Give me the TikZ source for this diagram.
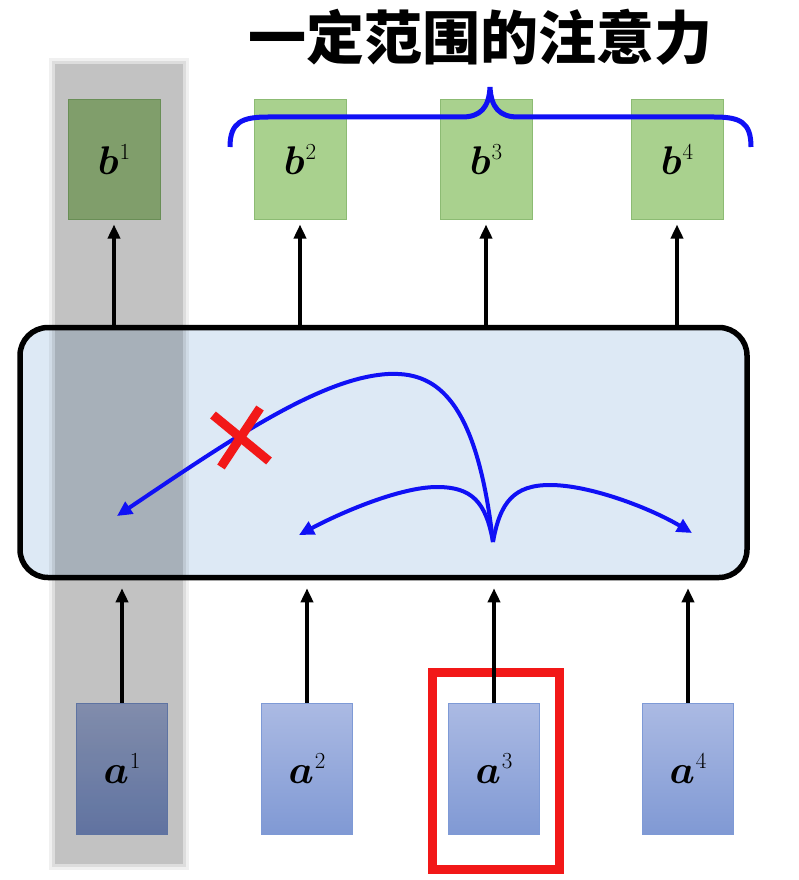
\RequirePackage{fix-cm}
\documentclass[tikz,border=0pt]{standalone}
\usepackage{fontspec}
\usepackage{amsmath,bm}
\newfontfamily\cjk{Noto Sans CJK SC}
\usetikzlibrary{arrows.meta,calc}
\definecolor{bfill}{HTML}{A9D18E}
\definecolor{bdraw}{HTML}{8CBB73}
\definecolor{atop}{HTML}{ABBAE3}
\definecolor{abot}{HTML}{8099D4}
\definecolor{adraw}{HTML}{7E9AD6}
\definecolor{midfill}{HTML}{DDE9F5}
\definecolor{myblue}{HTML}{1010F5}
\definecolor{myred}{HTML}{F21818}
\newcommand{\vlab}[2]{{\fontsize{40}{48}\selectfont$\bm{#1}$}\kern1pt\raisebox{15pt}{\fontsize{23}{26}\selectfont #2}}
\tikzset{
  bbox/.style={draw=bdraw,line width=1pt,fill=bfill,minimum width=92pt,minimum height=119pt,inner sep=0pt},
  abox/.style={draw=adraw,line width=1pt,top color=atop,bottom color=abot,minimum width=91pt,minimum height=131pt,inner sep=0pt},
  uparrow/.style={line width=3.5pt,draw=black,-{Triangle[length=14pt,width=12pt]}},
  bluearrow/.style={line width=4pt,draw=myblue,-{Triangle[length=15pt,width=14pt]}},
}
\begin{document}
\begin{tikzpicture}[x=1pt,y=-1pt]
\useasboundingbox (0,0) rectangle (798,880);
\fill[white] (0,0) rectangle (798,880);
% title
\node[font=\cjk\bfseries\fontsize{58}{60}\selectfont,inner sep=0pt] (title) at (480,37) {一定范围的注意力};
% b boxes
\node[bbox] (b1) at (114,159.5) {\vlab{b}{1}};
\node[bbox] (b2) at (300,159.5) {\vlab{b}{2}};
\node[bbox] (b3) at (486,159.5) {\vlab{b}{3}};
\node[bbox] (b4) at (677,159.5) {\vlab{b}{4}};
% a boxes
\node[abox] (a1) at (122,768.5) {\vlab{a}{1}};
\node[abox] (a2) at (307,768.5) {\vlab{a}{2}};
\node[abox] (a3) at (494,768.5) {\vlab{a}{3}};
\node[abox] (a4) at (688,768.5) {\vlab{a}{4}};
% red highlight
\node[draw=myred,line width=9pt,minimum width=127pt,minimum height=197pt,inner sep=0pt] (sel) at (495.5,770.5) {};
% middle box
\node[draw=black,line width=5.5pt,fill=midfill,rounded corners=28pt,minimum width=727pt,minimum height=250pt,inner sep=0pt] (mid) at (383.5,452.5) {};
% arrows up to b
\foreach \i in {1,2,3,4}{
  \draw[uparrow] (b\i.south |- mid.north) -- ($(b\i.south)+(0,5)$);
}
% arrows up from a
\foreach \i in {1,2,3,4}{
  \draw[uparrow] (a\i.north) -- ($(a\i.north |- mid.south)+(0,8)$);
}
% grey band (soft edges)
\fill[black,opacity=0.06] (49,58) rectangle (189,870);
\fill[black,opacity=0.08] (52,61) rectangle (186,867);
\fill[black,opacity=0.12] (55,64) rectangle (183,864);
% attention curves
\coordinate (src) at (493,542);
\coordinate (t1) at (117,516);
\coordinate (t2) at (299,535);
\coordinate (t4) at (692,533);
\draw[bluearrow] (src) .. controls (476,392) and (432,372) .. (388,374) .. controls (320,378) and (230,440) .. (t1);
\draw[bluearrow] (src) .. controls (486,502) and (472,487) .. (437,487) .. controls (400,487) and (340,513) .. (t2);
\draw[bluearrow] (src) .. controls (500,502) and (514,485) .. (550,485) .. controls (590,485) and (650,508) .. (t4);
% red cross
\coordinate (x) at (240,437);
\draw[myred,line width=9pt] ($(x)+(-27,-22)$) -- ($(x)+(29,24)$);
\draw[myred,line width=9pt] ($(x)+(20,-29)$) -- ($(x)+(-19,30)$);
% brace
\draw[myblue,line width=5pt] (230,147) .. controls (230,122) and (242,117) .. (268,117) -- (462,117)
  .. controls (480,117) and (489,108) .. (490,87) .. controls (491,108) and (500,117) .. (518,117)
  -- (714,117) .. controls (740,117) and (751,122) .. (751,147);
\end{tikzpicture}
\end{document}
